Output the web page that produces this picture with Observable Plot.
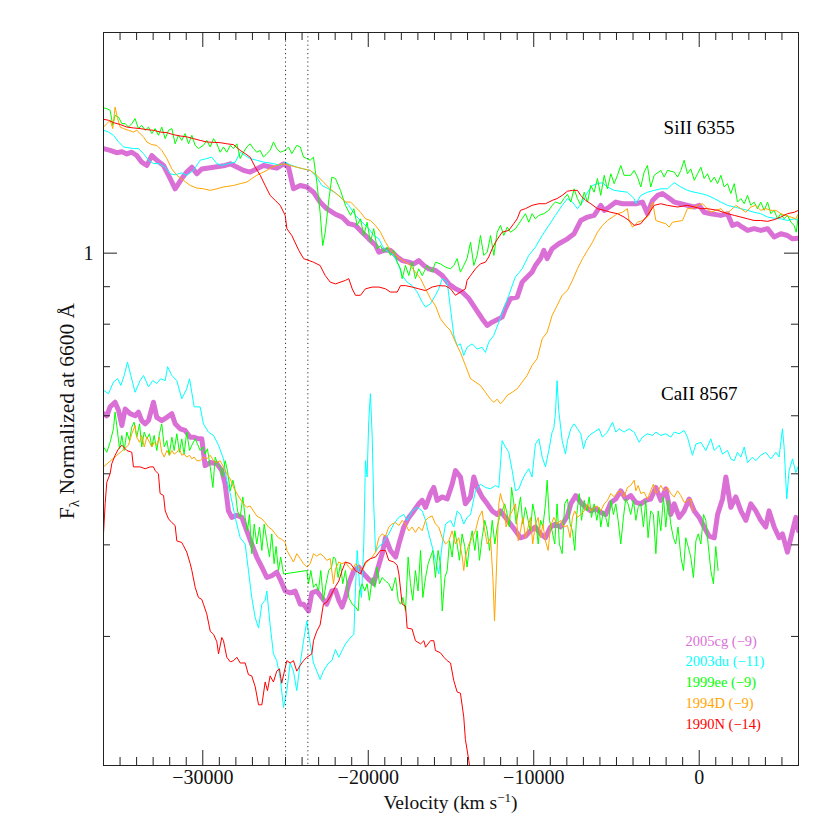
<!DOCTYPE html>
<html><head><meta charset="utf-8">
<script src="https://cdn.jsdelivr.net/npm/d3@7"></script>
<script src="https://cdn.jsdelivr.net/npm/@observablehq/plot@0.6"></script>
<style>body{margin:0;background:#fff}#chart{width:830px;height:830px}
svg text, svg tspan {font-family: "Liberation Serif", "DejaVu Serif", "Noto Serif", serif !important;}</style>
</head><body><div id="chart"></div>
<script>
// ---------- data: [velocity km/s, normalized flux] ----------
const si2005cg = [[-36000,1.389],[-35600,1.381],[-35200,1.371],[-34890,1.375],[-34590,1.366],[-34290,1.373],[-33990,1.359],[-33690,1.331],[-33380,1.317],[-33080,1.359],[-32780,1.339],[-32370,1.317],[-31970,1.264],[-31670,1.224],[-31270,1.264],[-30970,1.290],[-30660,1.310],[-30360,1.283],[-30060,1.303],[-29350,1.310],[-28650,1.317],[-28340,1.324],[-27540,1.297],[-27140,1.290],[-26330,1.317],[-25530,1.306],[-25120,1.324],[-24820,1.310],[-24520,1.224],[-24110,1.237],[-23710,1.231],[-23310,1.211],[-22910,1.174],[-22510,1.150],[-21980,1.130],[-21580,1.120],[-21180,1.097],[-20770,1.091],[-20370,1.068],[-19970,1.046],[-19560,1.025],[-19360,1.003],[-19060,1.009],[-18660,1.009],[-18250,0.988],[-17950,0.977],[-17550,0.972],[-17250,0.967],[-16950,0.977],[-16640,0.962],[-16340,0.952],[-15940,0.947],[-15530,0.932],[-15130,0.908],[-14730,0.894],[-14320,0.885],[-13920,0.867],[-13520,0.840],[-13120,0.814],[-12810,0.797],[-12510,0.805],[-11910,0.818],[-11710,0.840],[-11410,0.867],[-11000,0.871],[-10700,0.913],[-10400,0.928],[-10100,0.942],[-9900,0.962],[-9590,0.983],[-9390,1.009],[-9190,0.983],[-8890,1.014],[-8490,1.030],[-7960,1.046],[-7560,1.063],[-7160,1.108],[-6750,1.120],[-6350,1.126],[-6150,1.144],[-5950,1.162],[-5740,1.144],[-5440,1.156],[-5040,1.174],[-4640,1.168],[-3830,1.168],[-3430,1.174],[-3130,1.132],[-2820,1.180],[-2520,1.199],[-2220,1.206],[-1920,1.193],[-1510,1.174],[-1110,1.168],[-710,1.162],[-300,1.156],[0,1.162],[300,1.137],[700,1.132],[1300,1.126],[1710,1.132],[2010,1.091],[2310,1.097],[2610,1.085],[2920,1.074],[3320,1.080],[3720,1.074],[4130,1.080],[4530,1.052],[4930,1.063],[5330,1.057],[5640,1.046],[6000,1.048]];
const ca2005cg = [[-36000,0.604],[-35800,0.600],[-35600,0.617],[-35300,0.626],[-35090,0.610],[-34890,0.582],[-34690,0.613],[-34390,0.604],[-34090,0.600],[-33890,0.607],[-33690,0.591],[-33480,0.585],[-33280,0.591],[-32980,0.626],[-32780,0.597],[-32480,0.591],[-32170,0.597],[-31870,0.604],[-31670,0.585],[-31370,0.576],[-31070,0.573],[-30760,0.561],[-30560,0.561],[-30260,0.558],[-30060,0.558],[-29860,0.513],[-29550,0.518],[-29150,0.516],[-28850,0.505],[-28650,0.484],[-28450,0.445],[-28250,0.436],[-27940,0.439],[-27640,0.436],[-27340,0.418],[-27040,0.401],[-26740,0.385],[-26430,0.373],[-26130,0.361],[-25830,0.363],[-25530,0.367],[-25320,0.359],[-25020,0.346],[-24720,0.344],[-24420,0.346],[-24110,0.332],[-23910,0.332],[-23610,0.325],[-23410,0.344],[-23110,0.346],[-22810,0.339],[-22510,0.332],[-22200,0.346],[-21980,0.347],[-21780,0.336],[-21580,0.329],[-21380,0.339],[-21180,0.354],[-20870,0.369],[-20570,0.373],[-20270,0.365],[-19970,0.359],[-19670,0.354],[-19460,0.369],[-19160,0.389],[-18960,0.409],[-18660,0.393],[-18350,0.385],[-18150,0.401],[-17850,0.423],[-17550,0.436],[-17250,0.445],[-16950,0.455],[-16740,0.460],[-16540,0.450],[-16240,0.470],[-16040,0.479],[-15840,0.460],[-15530,0.465],[-15230,0.462],[-14930,0.484],[-14730,0.505],[-14430,0.495],[-14130,0.455],[-13820,0.465],[-13620,0.495],[-13420,0.479],[-13120,0.465],[-12810,0.455],[-12510,0.445],[-12210,0.440],[-12010,0.445],[-11710,0.436],[-11410,0.427],[-11100,0.418],[-10800,0.409],[-10500,0.411],[-10200,0.418],[-9900,0.423],[-9590,0.414],[-9290,0.409],[-8990,0.423],[-8690,0.427],[-8380,0.423],[-7960,0.438],[-7760,0.455],[-7460,0.467],[-7160,0.457],[-6860,0.450],[-6550,0.445],[-6250,0.448],[-5950,0.443],[-5650,0.440],[-5340,0.457],[-5040,0.462],[-4740,0.474],[-4440,0.462],[-4140,0.467],[-3830,0.457],[-3530,0.455],[-3230,0.460],[-2930,0.462],[-2620,0.479],[-2320,0.460],[-2020,0.477],[-1720,0.440],[-1510,0.455],[-1210,0.436],[-910,0.445],[-610,0.462],[-300,0.445],[0,0.436],[300,0.423],[600,0.411],[910,0.409],[1110,0.440],[1410,0.462],[1610,0.495],[1910,0.450],[2210,0.465],[2520,0.445],[2820,0.432],[3120,0.455],[3420,0.445],[3720,0.432],[4020,0.423],[4220,0.445],[4530,0.423],[4830,0.409],[5030,0.414],[5330,0.391],[5640,0.418],[5840,0.436],[6000,0.418]];
const si2003du = [[-36000,1.471],[-35700,1.463],[-35400,1.448],[-35090,1.418],[-34790,1.396],[-34190,1.389],[-33890,1.389],[-33580,1.367],[-33280,1.339],[-32980,1.325],[-32680,1.325],[-32270,1.310],[-31970,1.283],[-31670,1.279],[-31270,1.287],[-30970,1.277],[-30560,1.297],[-30160,1.339],[-29760,1.346],[-29460,1.352],[-29150,1.325],[-28850,1.317],[-28450,1.325],[-28040,1.331],[-27740,1.373],[-27440,1.359],[-27140,1.346],[-26740,1.339],[-26330,1.331],[-25730,1.325],[-25320,1.317],[-25020,1.331],[-24720,1.320],[-24320,1.310],[-23910,1.303],[-23510,1.297],[-23110,1.270],[-22810,1.237],[-22400,1.224],[-21980,1.208],[-21580,1.187],[-21180,1.162],[-20770,1.126],[-20370,1.102],[-19970,1.080],[-19670,1.057],[-19360,1.046],[-19060,1.014],[-18760,1.003],[-18460,0.993],[-18160,0.962],[-17950,0.932],[-17650,0.913],[-17350,0.903],[-17040,0.885],[-16740,0.857],[-16540,0.844],[-16240,0.853],[-15940,0.876],[-15740,0.894],[-15530,0.923],[-15230,0.913],[-15030,0.840],[-14830,0.772],[-14630,0.748],[-14430,0.752],[-14230,0.725],[-14030,0.744],[-13720,0.752],[-13420,0.740],[-13120,0.744],[-12920,0.732],[-12720,0.756],[-12420,0.772],[-12110,0.805],[-11810,0.840],[-11510,0.876],[-11110,0.928],[-10700,0.952],[-10300,0.993],[-9900,1.019],[-9490,1.057],[-9090,1.091],[-8690,1.126],[-8280,1.162],[-7960,1.187],[-7660,1.174],[-7360,1.150],[-7050,1.174],[-6750,1.211],[-6450,1.237],[-6150,1.244],[-5850,1.248],[-5550,1.231],[-5140,1.218],[-4340,1.211],[-3930,1.187],[-3830,1.168],[-3530,1.199],[-3130,1.211],[-2720,1.218],[-2320,1.224],[-1920,1.224],[-1510,1.248],[-1110,1.231],[-710,1.218],[-300,1.211],[100,1.206],[500,1.199],[910,1.187],[1310,1.174],[1710,1.162],[2120,1.156],[2520,1.150],[2920,1.144],[3320,1.137],[3720,1.132],[4130,1.120],[4530,1.116],[4930,1.114],[5330,1.108],[5740,1.114],[6000,1.108]];
const ca2003du = [[-36000,0.650],[-35700,0.643],[-35400,0.667],[-35150,0.674],[-34950,0.660],[-34750,0.681],[-34550,0.710],[-34350,0.681],[-34090,0.646],[-33790,0.670],[-33580,0.681],[-33280,0.657],[-33020,0.670],[-32780,0.664],[-32540,0.674],[-32270,0.670],[-32130,0.700],[-31870,0.681],[-31570,0.670],[-31270,0.633],[-30970,0.653],[-30800,0.674],[-30520,0.617],[-30160,0.617],[-29960,0.585],[-29660,0.570],[-29350,0.564],[-29050,0.547],[-28750,0.524],[-28550,0.490],[-28340,0.470],[-28040,0.436],[-27740,0.409],[-27440,0.401],[-27240,0.369],[-27040,0.339],[-26830,0.318],[-26630,0.308],[-26430,0.332],[-26230,0.336],[-26130,0.346],[-25930,0.311],[-25730,0.284],[-25530,0.278],[-25320,0.263],[-25120,0.240],[-24920,0.253],[-24720,0.276],[-24520,0.269],[-24320,0.253],[-24110,0.276],[-23910,0.296],[-23710,0.315],[-23510,0.293],[-23310,0.276],[-23110,0.269],[-22910,0.262],[-22710,0.269],[-22400,0.276],[-22200,0.278],[-21980,0.288],[-21780,0.281],[-21580,0.287],[-21380,0.293],[-21070,0.299],[-20870,0.302],[-20770,0.350],[-20670,0.393],[-20530,0.354],[-20410,0.339],[-20270,0.401],[-20170,0.521],[-20070,0.495],[-19970,0.591],[-19870,0.643],[-19760,0.561],[-19670,0.455],[-19560,0.391],[-19360,0.398],[-19160,0.401],[-18960,0.408],[-18760,0.414],[-18460,0.427],[-18160,0.436],[-17850,0.440],[-17650,0.432],[-17350,0.445],[-17040,0.450],[-16740,0.445],[-16540,0.432],[-16340,0.414],[-16140,0.398],[-15940,0.381],[-15740,0.365],[-15530,0.401],[-15330,0.427],[-15030,0.432],[-14830,0.423],[-14630,0.445],[-14430,0.440],[-14230,0.427],[-14030,0.436],[-13820,0.440],[-13520,0.474],[-13220,0.484],[-12920,0.479],[-12610,0.477],[-12310,0.482],[-12110,0.479],[-11910,0.555],[-11710,0.544],[-11510,0.535],[-11300,0.505],[-11100,0.474],[-10900,0.477],[-10700,0.490],[-10500,0.500],[-10300,0.508],[-10100,0.495],[-9900,0.549],[-9690,0.558],[-9490,0.527],[-9290,0.511],[-9090,0.538],[-8890,0.570],[-8790,0.576],[-8690,0.604],[-8590,0.670],[-8490,0.610],[-8280,0.555],[-8080,0.532],[-7960,0.555],[-7760,0.576],[-7560,0.585],[-7360,0.576],[-7160,0.567],[-6990,0.541],[-6860,0.555],[-6650,0.564],[-6350,0.570],[-6050,0.576],[-5850,0.561],[-5550,0.570],[-5240,0.588],[-5040,0.570],[-4840,0.576],[-4540,0.570],[-4240,0.576],[-3930,0.570],[-3630,0.552],[-3430,0.561],[-3130,0.567],[-2820,0.564],[-2620,0.570],[-2320,0.564],[-2020,0.567],[-1720,0.561],[-1510,0.570],[-1210,0.567],[-910,0.573],[-710,0.561],[-410,0.530],[-200,0.549],[100,0.552],[400,0.538],[700,0.558],[910,0.538],[1210,0.547],[1410,0.532],[1710,0.538],[1910,0.524],[2120,0.521],[2310,0.535],[2520,0.527],[2720,0.544],[2920,0.518],[3220,0.527],[3420,0.521],[3720,0.530],[4020,0.535],[4330,0.524],[4630,0.535],[4830,0.527],[5030,0.576],[5130,0.544],[5290,0.462],[5430,0.505],[5640,0.524],[5840,0.502],[6000,0.513]];
const si1999ee = [[-36000,1.578],[-35800,1.575],[-35600,1.566],[-35440,1.494],[-35300,1.542],[-35090,1.533],[-34890,1.502],[-34690,1.502],[-34490,1.486],[-34290,1.502],[-34090,1.526],[-33890,1.479],[-33690,1.494],[-33480,1.471],[-33280,1.486],[-33080,1.456],[-32880,1.479],[-32680,1.448],[-32480,1.486],[-32270,1.433],[-32070,1.471],[-31870,1.479],[-31670,1.410],[-31470,1.448],[-31270,1.425],[-31070,1.456],[-30860,1.410],[-30660,1.448],[-30460,1.403],[-30260,1.389],[-29960,1.403],[-29760,1.425],[-29550,1.396],[-29350,1.433],[-29150,1.410],[-28950,1.373],[-28750,1.396],[-28550,1.373],[-28340,1.403],[-28140,1.389],[-27940,1.410],[-27740,1.346],[-27540,1.373],[-27340,1.396],[-27140,1.410],[-26940,1.389],[-26740,1.373],[-26530,1.381],[-26330,1.352],[-26130,1.367],[-25930,1.381],[-25730,1.418],[-25530,1.389],[-25320,1.373],[-25020,1.381],[-24820,1.396],[-24620,1.367],[-24320,1.403],[-24110,1.396],[-23910,1.352],[-23710,1.346],[-23510,1.339],[-23310,1.352],[-23110,1.250],[-22910,1.137],[-22750,1.024],[-22600,1.068],[-22400,1.174],[-22200,1.270],[-21980,1.264],[-21680,1.218],[-21380,1.162],[-21070,1.126],[-20870,1.150],[-20670,1.091],[-20470,1.114],[-20270,1.057],[-20070,1.102],[-19870,1.035],[-19670,1.080],[-19460,1.014],[-19260,1.024],[-19060,1.003],[-18860,1.019],[-18660,0.993],[-18460,1.009],[-18250,0.972],[-18050,0.952],[-17950,0.923],[-17750,0.962],[-17550,0.932],[-17350,0.972],[-17150,0.923],[-16950,0.952],[-16740,0.932],[-16440,0.962],[-16140,0.942],[-15940,0.972],[-15640,0.967],[-15330,0.957],[-15030,0.952],[-14830,0.962],[-14630,0.983],[-14430,0.942],[-14230,0.962],[-14030,0.983],[-13820,1.035],[-13620,0.962],[-13420,0.993],[-13220,1.057],[-13020,0.993],[-12810,1.003],[-12610,1.057],[-12410,0.993],[-12210,1.068],[-12010,1.091],[-11810,1.057],[-11600,1.085],[-11410,1.068],[-11100,1.080],[-10900,1.097],[-10700,1.114],[-10500,1.132],[-10300,1.102],[-10100,1.132],[-9900,1.114],[-9690,1.126],[-9390,1.132],[-9090,1.144],[-8890,1.162],[-8690,1.174],[-8380,1.168],[-8180,1.187],[-7960,1.203],[-7760,1.174],[-7560,1.224],[-7360,1.187],[-7160,1.162],[-6950,1.211],[-6750,1.174],[-6550,1.237],[-6350,1.211],[-6150,1.264],[-5950,1.199],[-5740,1.277],[-5550,1.224],[-5340,1.283],[-5140,1.244],[-4940,1.277],[-4740,1.317],[-4540,1.277],[-4140,1.277],[-3930,1.297],[-3730,1.270],[-3530,1.231],[-3330,1.290],[-3130,1.317],[-2930,1.231],[-2720,1.277],[-2320,1.297],[-2120,1.270],[-1920,1.297],[-1510,1.290],[-1310,1.270],[-1110,1.297],[-910,1.339],[-710,1.283],[-510,1.303],[-300,1.257],[-100,1.283],[100,1.310],[300,1.264],[500,1.283],[700,1.250],[910,1.270],[1110,1.244],[1310,1.277],[1510,1.231],[1710,1.244],[1910,1.206],[2120,1.244],[2310,1.174],[2520,1.187],[2720,1.168],[2920,1.199],[3120,1.162],[3320,1.174],[3520,1.150],[3720,1.174],[3930,1.144],[4130,1.174],[4330,1.132],[4530,1.144],[4730,1.114],[4930,1.132],[5130,1.114],[5330,1.126],[5540,1.102],[5740,1.091],[5860,1.068],[6000,1.126]];
const ca1999ee = [[-36000,0.544],[-35800,0.535],[-35600,0.552],[-35400,0.576],[-35300,0.607],[-35200,0.582],[-35030,0.541],[-34890,0.564],[-34750,0.538],[-34590,0.570],[-34430,0.555],[-34290,0.579],[-34150,0.588],[-33990,0.561],[-33820,0.585],[-33690,0.544],[-33540,0.570],[-33380,0.558],[-33220,0.567],[-33080,0.544],[-32940,0.564],[-32780,0.538],[-32620,0.567],[-32480,0.585],[-32330,0.544],[-32170,0.555],[-32030,0.530],[-31870,0.561],[-31730,0.538],[-31570,0.567],[-31410,0.535],[-31270,0.558],[-31130,0.532],[-30970,0.570],[-30800,0.538],[-30660,0.547],[-30460,0.558],[-30320,0.549],[-30160,0.538],[-30000,0.544],[-29860,0.532],[-29720,0.541],[-29550,0.511],[-29390,0.479],[-29250,0.527],[-29110,0.516],[-28950,0.511],[-28810,0.495],[-28650,0.521],[-28510,0.505],[-28340,0.474],[-28180,0.490],[-28040,0.474],[-27900,0.445],[-27740,0.436],[-27580,0.465],[-27440,0.436],[-27300,0.418],[-27180,0.440],[-27040,0.389],[-26890,0.427],[-26740,0.401],[-26570,0.423],[-26430,0.393],[-26290,0.427],[-26130,0.405],[-25970,0.385],[-25830,0.414],[-25690,0.377],[-25570,0.398],[-25430,0.369],[-25290,0.385],[-25120,0.365],[-23710,0.369],[-23610,0.354],[-23470,0.369],[-23310,0.350],[-23150,0.354],[-23010,0.346],[-22870,0.369],[-22710,0.336],[-22550,0.354],[-22390,0.369],[-22220,0.373],[-22100,0.385],[-21980,0.383],[-21820,0.361],[-21680,0.377],[-21540,0.354],[-21380,0.369],[-21180,0.339],[-20970,0.332],[-20770,0.329],[-20610,0.325],[-20530,0.346],[-20370,0.354],[-20210,0.346],[-20070,0.354],[-19930,0.336],[-19760,0.361],[-19600,0.350],[-19460,0.373],[-19320,0.354],[-19160,0.361],[-18960,0.357],[-18760,0.354],[-18560,0.346],[-18350,0.361],[-18190,0.336],[-18050,0.332],[-17910,0.339],[-17750,0.325],[-17590,0.385],[-17450,0.354],[-17310,0.336],[-17150,0.369],[-16990,0.346],[-16840,0.393],[-16700,0.339],[-16540,0.361],[-16380,0.377],[-16240,0.385],[-16100,0.393],[-15940,0.361],[-15780,0.393],[-15640,0.377],[-15530,0.325],[-15370,0.361],[-15230,0.369],[-15090,0.405],[-14930,0.385],[-14770,0.418],[-14630,0.401],[-14490,0.381],[-14330,0.414],[-14170,0.398],[-14030,0.373],[-13890,0.398],[-13720,0.418],[-13560,0.393],[-13420,0.418],[-13280,0.381],[-13120,0.409],[-12960,0.432],[-12810,0.418],[-12670,0.393],[-12510,0.432],[-12350,0.401],[-12210,0.423],[-12070,0.436],[-11910,0.445],[-11750,0.455],[-11600,0.440],[-11470,0.423],[-11340,0.479],[-11200,0.455],[-11060,0.427],[-10940,0.445],[-10800,0.465],[-10660,0.427],[-10500,0.450],[-10340,0.432],[-10200,0.418],[-10060,0.455],[-9900,0.436],[-9730,0.401],[-9590,0.432],[-9450,0.423],[-9290,0.455],[-9190,0.490],[-9050,0.432],[-8890,0.418],[-8730,0.401],[-8590,0.455],[-8450,0.401],[-8280,0.389],[-8130,0.455],[-7960,0.462],[-7800,0.427],[-7660,0.418],[-7520,0.393],[-7400,0.440],[-7250,0.470],[-7110,0.432],[-6950,0.460],[-6790,0.445],[-6650,0.465],[-6510,0.436],[-6350,0.455],[-6190,0.432],[-6050,0.450],[-5950,0.423],[-5790,0.445],[-5650,0.436],[-5500,0.423],[-5340,0.460],[-5180,0.440],[-5040,0.455],[-4900,0.432],[-4740,0.401],[-4580,0.436],[-4440,0.462],[-4300,0.455],[-4140,0.440],[-3970,0.460],[-3830,0.432],[-3690,0.450],[-3530,0.455],[-3370,0.423],[-3230,0.460],[-3090,0.409],[-2930,0.445],[-2770,0.440],[-2620,0.389],[-2480,0.445],[-2320,0.418],[-2160,0.465],[-2020,0.423],[-1880,0.460],[-1720,0.427],[-1560,0.409],[-1420,0.401],[-1280,0.423],[-1110,0.385],[-950,0.369],[-810,0.409],[-670,0.398],[-510,0.385],[-350,0.361],[-200,0.405],[-60,0.414],[100,0.401],[260,0.440],[400,0.432],[540,0.401],[700,0.369],[860,0.354],[1000,0.398],[1140,0.369]];
const si1994D = [[-36000,1.486],[-35800,1.502],[-35600,1.518],[-35440,1.479],[-35300,1.582],[-35150,1.526],[-34990,1.486],[-34790,1.479],[-34490,1.471],[-34190,1.463],[-33990,1.471],[-33790,1.456],[-33580,1.441],[-33380,1.418],[-33080,1.406],[-32780,1.403],[-32480,1.381],[-32170,1.346],[-31870,1.303],[-31570,1.277],[-31170,1.257],[-30760,1.237],[-30360,1.227],[-29960,1.224],[-29550,1.218],[-29150,1.224],[-28750,1.231],[-28140,1.237],[-27740,1.244],[-27340,1.250],[-27040,1.264],[-26740,1.277],[-26430,1.287],[-26130,1.297],[-25830,1.310],[-25530,1.317],[-25120,1.324],[-24720,1.317],[-24320,1.310],[-23910,1.303],[-23510,1.297],[-23110,1.277],[-22710,1.250],[-22300,1.224],[-21980,1.208],[-21680,1.193],[-21380,1.174],[-21070,1.174],[-20770,1.156],[-20470,1.137],[-20170,1.114],[-19870,1.108],[-19560,1.091],[-19260,1.068],[-18960,1.035],[-18660,1.009],[-18350,0.993],[-18050,0.983],[-17750,0.972],[-17450,0.962],[-17150,0.942],[-16840,0.923],[-16540,0.894],[-16240,0.867],[-15940,0.848],[-15640,0.814],[-15330,0.797],[-15030,0.784],[-14730,0.756],[-14430,0.732],[-14130,0.703],[-13820,0.674],[-13520,0.667],[-13220,0.660],[-12920,0.646],[-12610,0.632],[-12410,0.626],[-12210,0.632],[-12010,0.623],[-11810,0.630],[-11600,0.640],[-11300,0.646],[-11000,0.653],[-10700,0.667],[-10400,0.681],[-10100,0.703],[-9790,0.718],[-9490,0.764],[-9190,0.780],[-8890,0.822],[-8590,0.848],[-8280,0.876],[-7960,0.890],[-7660,0.918],[-7360,0.952],[-7050,0.983],[-6750,1.009],[-6450,1.035],[-6150,1.068],[-5850,1.091],[-5550,1.108],[-5240,1.120],[-4940,1.132],[-4640,1.137],[-4340,1.150],[-4240,1.108],[-4030,1.085],[-3730,1.102],[-3430,1.108],[-3130,1.120],[-2820,1.174],[-2620,1.108],[-2320,1.102],[-2020,1.097],[-1820,1.085],[-1620,1.102],[-1010,1.108],[-710,1.150],[-410,1.150],[-100,1.162],[200,1.168],[400,1.156],[700,1.137],[1000,1.144],[1310,1.150],[1610,1.132],[1910,1.144],[2210,1.162],[2520,1.150],[2820,1.137],[3120,1.156],[3420,1.162],[3720,1.144],[4020,1.150],[4330,1.144],[4630,1.144],[4930,1.132],[5230,1.126],[5540,1.120],[5840,1.114],[6000,1.132]];
const ca1994D = [[-36000,0.511],[-34490,0.547],[-34290,0.567],[-34090,0.582],[-33990,0.561],[-33820,0.552],[-33690,0.564],[-33540,0.544],[-33380,0.561],[-33220,0.552],[-33080,0.544],[-32940,0.552],[-32780,0.547],[-32620,0.561],[-32480,0.535],[-32330,0.527],[-32170,0.538],[-32010,0.530],[-31870,0.538],[-31730,0.532],[-31570,0.535],[-31410,0.541],[-31270,0.530],[-31130,0.532],[-30970,0.527],[-30800,0.530],[-30660,0.524],[-30520,0.527],[-30360,0.521],[-30160,0.521],[-29960,0.527],[-29760,0.524],[-29550,0.530],[-29350,0.521],[-29150,0.518],[-28950,0.521],[-28750,0.511],[-28550,0.500],[-28340,0.492],[-28140,0.479],[-27940,0.470],[-27740,0.462],[-27540,0.455],[-27340,0.450],[-27140,0.452],[-26940,0.445],[-26740,0.438],[-26430,0.434],[-26230,0.429],[-26030,0.423],[-25830,0.420],[-25620,0.414],[-25430,0.409],[-25230,0.407],[-25020,0.403],[-24920,0.393],[-24720,0.386],[-24520,0.379],[-24320,0.389],[-24110,0.383],[-23910,0.377],[-23710,0.373],[-23510,0.377],[-23310,0.389],[-23110,0.386],[-22910,0.389],[-22710,0.386],[-22510,0.381],[-22300,0.383],[-22100,0.354],[-21980,0.371],[-21780,0.379],[-21580,0.377],[-21380,0.379],[-21180,0.373],[-20970,0.369],[-20770,0.377],[-20570,0.373],[-20370,0.369],[-20170,0.377],[-19970,0.381],[-19760,0.385],[-19560,0.391],[-19360,0.409],[-19160,0.414],[-18960,0.411],[-18760,0.423],[-18560,0.427],[-18350,0.429],[-18150,0.425],[-17950,0.432],[-17750,0.427],[-17550,0.418],[-17350,0.423],[-17150,0.416],[-16950,0.423],[-16740,0.418],[-16540,0.432],[-16340,0.436],[-16140,0.438],[-15940,0.427],[-15740,0.423],[-15530,0.409],[-15330,0.401],[-15130,0.405],[-14930,0.418],[-14730,0.401],[-14530,0.409],[-14320,0.385],[-14230,0.369],[-14130,0.385],[-13920,0.401],[-13720,0.409],[-13520,0.418],[-13320,0.436],[-13120,0.445],[-12960,0.418],[-12810,0.401],[-12610,0.409],[-12470,0.361],[-12370,0.315],[-12270,0.361],[-12110,0.455],[-12010,0.470],[-11910,0.460],[-11810,0.455],[-11670,0.423],[-11510,0.436],[-11300,0.445],[-11100,0.455],[-10940,0.405],[-10800,0.418],[-10660,0.436],[-10500,0.409],[-10340,0.423],[-10200,0.436],[-10060,0.401],[-9900,0.427],[-9730,0.436],[-9590,0.409],[-9450,0.427],[-9290,0.405],[-9130,0.393],[-8990,0.423],[-8790,0.436],[-8590,0.427],[-8380,0.432],[-8180,0.423],[-7960,0.425],[-7800,0.409],[-7660,0.436],[-7520,0.445],[-7360,0.436],[-7160,0.440],[-6950,0.445],[-6750,0.455],[-6550,0.445],[-6350,0.450],[-6150,0.452],[-5950,0.445],[-5740,0.455],[-5550,0.460],[-5340,0.470],[-5140,0.465],[-4940,0.472],[-4740,0.474],[-4540,0.465],[-4340,0.479],[-4140,0.482],[-3930,0.490],[-3830,0.474],[-3690,0.482],[-3530,0.470],[-3330,0.472],[-3130,0.462],[-2930,0.474],[-2770,0.484],[-2620,0.470],[-2480,0.474],[-2320,0.482],[-2120,0.474],[-1920,0.479],[-1720,0.470],[-1510,0.465],[-1310,0.474],[-1110,0.467],[-910,0.457],[-710,0.460],[-510,0.462],[-410,0.445]];
const si1990N = [[-36000,1.523],[-35700,1.518],[-35400,1.507],[-34990,1.498],[-34590,1.486],[-34190,1.482],[-33790,1.479],[-33380,1.474],[-32980,1.471],[-32580,1.463],[-32170,1.460],[-31770,1.451],[-31370,1.445],[-30970,1.441],[-30560,1.433],[-30160,1.425],[-29760,1.418],[-28950,1.415],[-28550,1.410],[-28140,1.406],[-27740,1.381],[-27440,1.367],[-27140,1.352],[-26830,1.310],[-26530,1.277],[-26230,1.237],[-25930,1.199],[-25620,1.180],[-25320,1.162],[-25020,1.126],[-24920,1.080],[-24620,1.057],[-24200,1.009],[-23910,0.983],[-23310,0.972],[-22910,0.962],[-22600,0.932],[-22300,0.913],[-21980,0.908],[-21380,0.918],[-21180,0.923],[-20970,0.894],[-20770,0.876],[-20470,0.876],[-20170,0.894],[-19760,0.899],[-19360,0.899],[-18960,0.894],[-18660,0.885],[-18250,0.885],[-18050,0.903],[-17750,0.903],[-17350,0.899],[-16950,0.894],[-16540,0.889],[-16140,0.899],[-15740,0.903],[-15330,0.902],[-15030,0.894],[-14730,0.876],[-14430,0.885],[-14130,0.894],[-14030,0.918],[-13820,0.932],[-13520,0.952],[-13220,0.967],[-12920,0.972],[-12720,0.988],[-12510,1.014],[-12310,1.035],[-12110,1.052],[-11910,1.068],[-11510,1.074],[-11210,1.097],[-11000,1.114],[-10800,1.144],[-10500,1.150],[-10100,1.162],[-9690,1.168],[-9290,1.168],[-8890,1.180],[-8590,1.187],[-8280,1.199],[-7960,1.215],[-7660,1.218],[-7360,1.218],[-7160,1.199],[-6860,1.180],[-6550,1.168],[-6150,1.150],[-5740,1.144],[-5340,1.137],[-4940,1.132],[-4540,1.120],[-4240,1.108],[-3930,1.091],[-3530,1.097],[-3130,1.126],[-2720,1.162],[-2320,1.168],[-1920,1.162],[-1310,1.156],[-710,1.162],[-300,1.156],[100,1.150],[500,1.150],[1110,1.144],[1710,1.132],[2120,1.126],[2520,1.120],[2920,1.114],[3320,1.108],[3720,1.108],[4130,1.105],[4530,1.111],[4930,1.120],[5330,1.132],[5740,1.137],[6000,1.144]];
const ca1990N = [[-36000,0.414],[-35900,0.455],[-35800,0.487],[-35600,0.500],[-35500,0.516],[-35300,0.530],[-35090,0.541],[-34890,0.547],[-34590,0.538],[-34290,0.535],[-34190,0.511],[-33790,0.511],[-33480,0.508],[-33180,0.511],[-32980,0.511],[-32880,0.505],[-32680,0.500],[-32580,0.470],[-32370,0.467],[-32270,0.445],[-32070,0.434],[-31870,0.429],[-31670,0.425],[-31570,0.405],[-31270,0.403],[-31170,0.399],[-30970,0.391],[-30760,0.377],[-30660,0.369],[-30460,0.350],[-30260,0.339],[-30060,0.337],[-29960,0.332],[-29760,0.322],[-29550,0.305],[-29350,0.302],[-29150,0.295],[-29050,0.284],[-28850,0.299],[-28750,0.296],[-28550,0.281],[-28340,0.277],[-28140,0.278],[-27940,0.281],[-27740,0.276],[-27440,0.276],[-27240,0.266],[-27040,0.265],[-26830,0.256],[-26630,0.242],[-26430,0.242],[-26230,0.260],[-26090,0.253],[-25930,0.265],[-25730,0.260],[-25530,0.269],[-25370,0.271],[-25230,0.259],[-25020,0.272],[-24920,0.278],[-24720,0.276],[-24520,0.278],[-24320,0.269],[-24110,0.274],[-23910,0.278],[-23710,0.281],[-23410,0.284],[-23310,0.296],[-23110,0.305],[-22910,0.311],[-22710,0.332],[-22510,0.334],[-22300,0.340],[-21980,0.351],[-21780,0.357],[-21580,0.369],[-21380,0.379],[-21070,0.377],[-20770,0.369],[-20470,0.365],[-20170,0.379],[-19870,0.383],[-19560,0.385],[-19260,0.393],[-18960,0.393],[-18760,0.381],[-18460,0.379],[-18250,0.375],[-18150,0.365],[-17950,0.332],[-17750,0.330],[-17650,0.308],[-17350,0.307],[-17150,0.296],[-16840,0.293],[-16640,0.296],[-16540,0.290],[-16240,0.296],[-16040,0.296],[-15940,0.287],[-15640,0.285],[-15430,0.281],[-15230,0.278],[-15030,0.276],[-14830,0.261],[-14630,0.252],[-14430,0.251],[-14230,0.233],[-14130,0.217],[-13920,0.203],[-13820,0.195]];

const legendNames = ["2005cg (\u22129)", "2003du (\u221211)", "1999ee (\u22129)", "1994D (\u22129)", "1990N (\u221214)"];
const snColors = ["#DA70D6", "#00FFFF", "#00FF00", "#FFA500", "#FF0000"];
const lineLabels = [{name: "SiII 6355", v: 0, f: 1.48}, {name: "CaII 8567", v: 0, f: 0.643}];
const xMajorTicks = [-30000, -20000, -10000, 0];
const xMinorTicks = d3.range(-36000, 6001, 1000).filter(v => v % 10000 !== 0);
const yMajorTicks = [1];
const yMinorTicks = [0.3, 0.4, 0.5, 0.6, 0.7, 0.8, 0.9];
const markerVelocities = [-25000, -23650];

// ---------- build ----------
const seriesBySn = [[si2005cg, ca2005cg], [si2003du, ca2003du], [si1999ee, ca1999ee], [si1994D, ca1994D], [si1990N, ca1990N]];
const rows = [];
seriesBySn.forEach((list, sn) => list.forEach((arr, j) => arr.forEach(([v, f]) => rows.push({v, f, sn, key: sn + "-" + j}))));

const W = 830, H = 830, mL = 103, mR = 32, mT = 32, mB = 65;
const fW = W - mL - mR, fH = H - mT - mB;
const axisColor = "#222";
const serif = "Liberation Serif, DejaVu Serif, serif";
const fmt = d => d < 0 ? "\u2212" + Math.abs(d) : String(d);

const marks = [
  ...seriesBySn.map((_, sn) => Plot.line(rows.filter(r => r.sn === sn), {
    x: "v", y: "f", z: "key", stroke: snColors[sn], strokeWidth: sn === 0 ? 5 : 1,
    strokeLinejoin: "round", clip: true
  })),
  Plot.ruleX(markerVelocities, {x: d => d, stroke: "#333", strokeWidth: 1, strokeDasharray: "1.2,3"}),
  Plot.frame({stroke: axisColor, strokeWidth: 1}),
  Plot.ruleX(xMinorTicks, {x: d => d, insetTop: fH - 8, stroke: axisColor}),
  Plot.ruleX(xMinorTicks, {x: d => d, insetBottom: fH - 8, stroke: axisColor}),
  Plot.ruleX(xMajorTicks, {x: d => d, insetTop: fH - 15, stroke: axisColor}),
  Plot.ruleX(xMajorTicks, {x: d => d, insetBottom: fH - 15, stroke: axisColor}),
  Plot.ruleY(yMinorTicks, {y: d => d, insetRight: fW - 7, stroke: axisColor}),
  Plot.ruleY(yMinorTicks, {y: d => d, insetLeft: fW - 7, stroke: axisColor}),
  Plot.ruleY(yMajorTicks, {y: d => d, insetRight: fW - 14, stroke: axisColor}),
  Plot.ruleY(yMajorTicks, {y: d => d, insetLeft: fW - 14, stroke: axisColor}),
  Plot.text(xMajorTicks, {x: d => d, frameAnchor: "bottom", dy: 18, text: fmt, fontSize: 20, fill: "#111"}),
  Plot.text(yMajorTicks, {y: d => d, frameAnchor: "left", dx: -10, textAnchor: "end", text: d => String(d), fontSize: 20, fill: "#111"}),
  Plot.text(lineLabels, {x: "v", y: "f", text: "name", fontSize: 19, fill: "#000"}),
  ...legendNames.map((t, i) => Plot.text([t], {
    frameAnchor: "top-left", dx: 582, dy: 603 + i * 20.7, text: d => d,
    textAnchor: "start", fill: snColors[i], fontSize: 14.5
  }))
];

const chart = Plot.plot({
  width: W, height: H, marginLeft: mL, marginRight: mR, marginTop: mT, marginBottom: mB,
  x: {domain: [-36000, 6000], axis: null},
  y: {type: "log", domain: [0.2, 2], axis: null},
  style: {fontFamily: serif, background: "white"},
  marks
});
document.getElementById("chart").appendChild(chart);

// axis titles with sub/superscripts
const svg = d3.select(chart);
const xt = svg.append("text").attr("x", mL + fW / 2).attr("y", 809).attr("text-anchor", "middle")
  .attr("font-size", 19.5).attr("fill", "#111");
xt.append("tspan").text("Velocity (km s");
xt.append("tspan").attr("dy", -7).attr("font-size", 13).text("\u22121");
xt.append("tspan").attr("dy", 7).text(")");

const yt = svg.append("text").attr("transform", "translate(74,411) rotate(-90)").attr("text-anchor", "middle")
  .attr("font-size", 21.5).attr("fill", "#111");
yt.append("tspan").text("F");
yt.append("tspan").attr("dy", 5).attr("font-size", 15).text("\u03bb");
yt.append("tspan").attr("dy", -5).text(" Normalized at 6600 \u00c5");
</script>
</body></html>
